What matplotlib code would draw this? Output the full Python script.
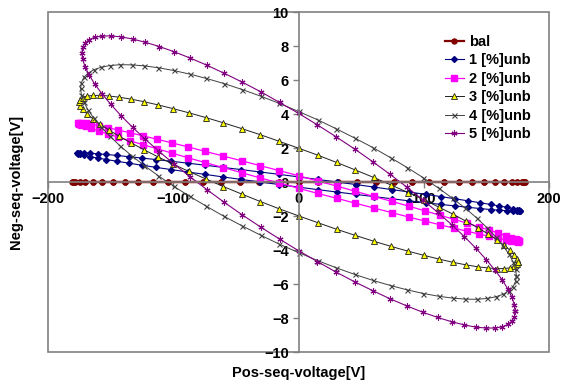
import matplotlib.pyplot as plt
from matplotlib.patches import Rectangle
import numpy as np

# Pos-seq / Neg-seq voltage samples (5 deg steps round each loop)
bal_x = [181, 180.3, 178.3, 174.8, 170.1, 164.0, 156.7, 148.3, 138.6, 128.0, 116.3, 103.8, 90.5, 76.5, 61.9, 46.8, 31.4, 15.8,
         0, -15.8, -31.4, -46.8, -61.9, -76.5, -90.5, -103.8, -116.3, -128.0, -138.6, -148.3, -156.7, -164.0, -170.1, -174.8, -178.3, -180.3,
         -181, -180.3, -178.3, -174.8, -170.1, -164.0, -156.7, -148.3, -138.6, -128.0, -116.3, -103.8, -90.5, -76.5, -61.9, -46.8, -31.4, -15.8,
         0, 15.8, 31.4, 46.8, 61.9, 76.5, 90.5, 103.8, 116.3, 128.0, 138.6, 148.3, 156.7, 164.0, 170.1, 174.8, 178.3, 180.3]
bal_y = [0, 0, 0, 0, 0, 0, 0, 0, 0, 0, 0, 0, 0, 0, 0, 0, 0, 0,
         0, 0, 0, 0, 0, 0, 0, 0, 0, 0, 0, 0, 0, 0, 0, 0, 0, 0,
         0, 0, 0, 0, 0, 0, 0, 0, 0, 0, 0, 0, 0, 0, 0, 0, 0, 0,
         0, 0, 0, 0, 0, 0, 0, 0, 0, 0, 0, 0, 0, 0, 0, 0, 0, 0]

unb1_x = [177, 176.3, 174.3, 171.0, 166.3, 160.4, 153.3, 145.0, 135.6, 125.2, 113.8, 101.5, 88.5, 74.8, 60.5, 45.8, 30.7, 15.4,
          0, -15.4, -30.7, -45.8, -60.5, -74.8, -88.5, -101.5, -113.8, -125.2, -135.6, -145.0, -153.3, -160.4, -166.3, -171.0, -174.3, -176.3,
          -177, -176.3, -174.3, -171.0, -166.3, -160.4, -153.3, -145.0, -135.6, -125.2, -113.8, -101.5, -88.5, -74.8, -60.5, -45.8, -30.7, -15.4,
          0, 15.4, 30.7, 45.8, 60.5, 74.8, 88.5, 101.5, 113.8, 125.2, 135.6, 145.0, 153.3, 160.4, 166.3, 171.0, 174.3, 176.3]
unb1_y = [-1.69, -1.71, -1.72, -1.71, -1.69, -1.66, -1.62, -1.56, -1.49, -1.41, -1.32, -1.22, -1.11, -0.99, -0.86, -0.73, -0.59, -0.45,
          -0.30, -0.15, 0.00, 0.15, 0.30, 0.45, 0.59, 0.73, 0.86, 0.99, 1.11, 1.22, 1.32, 1.41, 1.49, 1.56, 1.62, 1.66,
          1.69, 1.71, 1.72, 1.71, 1.69, 1.66, 1.62, 1.56, 1.49, 1.41, 1.32, 1.22, 1.11, 0.99, 0.86, 0.73, 0.59, 0.45,
          0.30, 0.15, 0.00, -0.15, -0.30, -0.45, -0.59, -0.73, -0.86, -0.99, -1.11, -1.22, -1.32, -1.41, -1.49, -1.56, -1.62, -1.66]

unb2_x = [176, 175.3, 173.3, 170.0, 165.4, 159.5, 152.4, 144.2, 134.8, 124.4, 113.1, 101.0, 88.0, 74.4, 60.2, 45.5, 30.6, 15.3,
          0, -15.3, -30.6, -45.5, -60.2, -74.4, -88.0, -101.0, -113.1, -124.4, -134.8, -144.2, -152.4, -159.5, -165.4, -170.0, -173.3, -175.3,
          -176, -175.3, -173.3, -170.0, -165.4, -159.5, -152.4, -144.2, -134.8, -124.4, -113.1, -101.0, -88.0, -74.4, -60.2, -45.5, -30.6, -15.3,
          0, 15.3, 30.6, 45.5, 60.2, 74.4, 88.0, 101.0, 113.1, 124.4, 134.8, 144.2, 152.4, 159.5, 165.4, 170.0, 173.3, 175.3]
unb2_y = [-3.48, -3.50, -3.49, -3.46, -3.40, -3.31, -3.20, -3.06, -2.90, -2.72, -2.52, -2.30, -2.06, -1.80, -1.53, -1.25, -0.96, -0.67,
          -0.37, -0.06, 0.24, 0.55, 0.85, 1.14, 1.42, 1.70, 1.96, 2.20, 2.43, 2.64, 2.83, 3.00, 3.15, 3.27, 3.36, 3.44,
          3.48, 3.50, 3.49, 3.46, 3.40, 3.31, 3.20, 3.06, 2.90, 2.72, 2.52, 2.30, 2.06, 1.80, 1.53, 1.25, 0.96, 0.67,
          0.37, 0.06, -0.24, -0.55, -0.85, -1.14, -1.42, -1.70, -1.96, -2.20, -2.43, -2.64, -2.83, -3.00, -3.15, -3.27, -3.36, -3.44]

unb3_x = [175, 174.3, 172.3, 169.0, 164.4, 158.6, 151.6, 143.4, 134.1, 123.7, 112.5, 100.4, 87.5, 74.0, 59.9, 45.3, 30.4, 15.3,
          0, -15.3, -30.4, -45.3, -59.9, -74.0, -87.5, -100.4, -112.5, -123.7, -134.1, -143.4, -151.6, -158.6, -164.4, -169.0, -172.3, -174.3,
          -175, -174.3, -172.3, -169.0, -164.4, -158.6, -151.6, -143.4, -134.1, -123.7, -112.5, -100.4, -87.5, -74.0, -59.9, -45.3, -30.4, -15.3,
          0, 15.3, 30.4, 45.3, 59.9, 74.0, 87.5, 100.4, 112.5, 123.7, 134.1, 143.4, 151.6, 158.6, 164.4, 169.0, 172.3, 174.3]
unb3_y = [-4.69, -4.85, -4.97, -5.05, -5.09, -5.10, -5.06, -4.99, -4.88, -4.73, -4.54, -4.32, -4.07, -3.79, -3.48, -3.14, -2.78, -2.39,
          -1.99, -1.58, -1.15, -0.71, -0.27, 0.18, 0.62, 1.06, 1.49, 1.91, 2.32, 2.70, 3.07, 3.41, 3.73, 4.02, 4.28, 4.50,
          4.69, 4.85, 4.97, 5.05, 5.09, 5.10, 5.06, 4.99, 4.88, 4.73, 4.54, 4.32, 4.07, 3.79, 3.48, 3.14, 2.78, 2.39,
          1.99, 1.58, 1.15, 0.71, 0.27, -0.18, -0.62, -1.06, -1.49, -1.91, -2.32, -2.70, -3.07, -3.41, -3.73, -4.02, -4.28, -4.50]

unb4_x = [174, 173.3, 171.4, 168.1, 163.5, 157.7, 150.7, 142.5, 133.3, 123.0, 111.8, 99.8, 87.0, 73.5, 59.5, 45.0, 30.2, 15.2,
          0, -15.2, -30.2, -45.0, -59.5, -73.5, -87.0, -99.8, -111.8, -123.0, -133.3, -142.5, -150.7, -157.7, -163.5, -168.1, -171.4, -173.3,
          -174, -173.3, -171.4, -168.1, -163.5, -157.7, -150.7, -142.5, -133.3, -123.0, -111.8, -99.8, -87.0, -73.5, -59.5, -45.0, -30.2, -15.2,
          0, 15.2, 30.2, 45.0, 59.5, 73.5, 87.0, 99.8, 111.8, 123.0, 133.3, 142.5, 150.7, 157.7, 163.5, 168.1, 171.4, 173.3]
unb4_y = [-5.51, -5.85, -6.15, -6.40, -6.60, -6.75, -6.85, -6.90, -6.89, -6.83, -6.72, -6.56, -6.35, -6.09, -5.79, -5.44, -5.05, -4.62,
          -4.15, -3.66, -3.13, -2.58, -2.02, -1.43, -0.84, -0.24, 0.36, 0.96, 1.55, 2.13, 2.70, 3.24, 3.76, 4.25, 4.71, 5.13,
          5.51, 5.85, 6.15, 6.40, 6.60, 6.75, 6.85, 6.90, 6.89, 6.83, 6.72, 6.56, 6.35, 6.09, 5.79, 5.44, 5.05, 4.62,
          4.15, 3.66, 3.13, 2.58, 2.02, 1.43, 0.84, 0.24, -0.36, -0.96, -1.55, -2.13, -2.70, -3.24, -3.76, -4.25, -4.71, -5.13]

unb5_x = [173, 172.3, 170.4, 167.1, 162.6, 156.8, 149.8, 141.7, 132.5, 122.3, 111.2, 99.2, 86.5, 73.1, 59.2, 44.8, 30.0, 15.1,
          0, -15.1, -30.0, -44.8, -59.2, -73.1, -86.5, -99.2, -111.2, -122.3, -132.5, -141.7, -149.8, -156.8, -162.6, -167.1, -170.4, -172.3,
          -173, -172.3, -170.4, -167.1, -162.6, -156.8, -149.8, -141.7, -132.5, -122.3, -111.2, -99.2, -86.5, -73.1, -59.2, -44.8, -30.0, -15.1,
          0, 15.1, 30.0, 44.8, 59.2, 73.1, 86.5, 99.2, 111.2, 122.3, 132.5, 141.7, 149.8, 156.8, 162.6, 167.1, 170.4, 172.3]
unb5_y = [-7.59, -7.92, -8.18, -8.38, -8.52, -8.59, -8.59, -8.54, -8.41, -8.22, -7.97, -7.66, -7.29, -6.87, -6.39, -5.87, -5.30, -4.68,
          -4.04, -3.36, -2.66, -1.94, -1.20, -0.45, 0.30, 1.05, 1.79, 2.51, 3.22, 3.90, 4.56, 5.18, 5.75, 6.29, 6.78, 7.21,
          7.59, 7.92, 8.18, 8.38, 8.52, 8.59, 8.59, 8.54, 8.41, 8.22, 7.97, 7.66, 7.29, 6.87, 6.39, 5.87, 5.30, 4.68,
          4.04, 3.36, 2.66, 1.94, 1.20, 0.45, -0.30, -1.05, -1.79, -2.51, -3.22, -3.90, -4.56, -5.18, -5.75, -6.29, -6.78, -7.21]

labels = ['bal', '1 [%]unb', '2 [%]unb', '3 [%]unb', '4 [%]unb', '5 [%]unb']
x_ticks = [-200, -100, 0, 100, 200]
y_ticks = [-10, -8, -6, -4, -2, 0, 2, 4, 6, 8, 10]

styles = [
    dict(color='#800000', marker='o', ms=3.6, mfc='#800000', mec='#800000', lw=1.6),
    dict(color='#000080', marker='D', ms=3.0, mfc='#000080', mec='#000080', lw=0.8),
    dict(color='#FF00FF', marker='s', ms=3.8, mfc='#FF00FF', mec='#FF00FF', lw=0.9),
    dict(color='#202020', marker='^', ms=3.8, mfc='#FFFF00', mec='#202020', mew=0.6, lw=0.7),
    dict(color='#404040', marker='x', ms=3.6, mec='#404040', mew=0.8, lw=0.7),
    dict(color='#800080', marker=(6, 2, 0), ms=4.3, mec='#800080', mew=0.8, lw=0.8),
]

series = [(bal_x, bal_y), (unb1_x, unb1_y), (unb2_x, unb2_y),
          (unb3_x, unb3_y), (unb4_x, unb4_y), (unb5_x, unb5_y)]

plt.rcParams['font.family'] = ['Liberation Sans', 'DejaVu Sans']

fig = plt.figure(figsize=(5.64, 3.85), dpi=100)
ax = fig.add_axes([48/564, 1 - 352/385, 501/564, 340/385])

for (xs, ys), lab, st in zip(series, labels, styles):
    xs = np.append(xs, xs[0])
    ys = np.append(ys, ys[0])
    ax.plot(xs, ys, label=lab, **st)

ax.set_xlim(-200, 200)
ax.set_ylim(-10, 10)
ax.set_xticks(x_ticks)
ax.set_yticks(y_ticks)

# axes cross at the origin, grey box round the plot area
for s in ['left', 'bottom']:
    ax.spines[s].set_position('zero')
    ax.spines[s].set_color('#808080')
    ax.spines[s].set_linewidth(1.2)
for s in ['top', 'right']:
    ax.spines[s].set_visible(False)
ax.add_patch(Rectangle((0, 0), 1, 1, transform=ax.transAxes, fill=False,
                       edgecolor='#808080', lw=1.2, clip_on=False, zorder=0))

ax.tick_params(direction='out', length=4, width=1, color='#808080',
               labelsize=10.5, pad=3)
ax.set_xticklabels([str(v).replace('-', '\u2212') for v in x_ticks])
ax.set_yticklabels([str(v).replace('-', '\u2212') for v in y_ticks])
for t in ax.get_xticklabels() + ax.get_yticklabels():
    t.set_fontweight('bold')

ax.set_xlabel('Pos-seq-voltage[V]', fontsize=10.5, fontweight='bold')
ax.set_ylabel('Neg-seq-voltage[V]', fontsize=10.5, fontweight='bold')
ax.xaxis.set_label_coords(0.5, -0.04)
ax.yaxis.set_label_coords(-0.05, 0.5)

ax.legend(loc='upper left', bbox_to_anchor=(0.78, 0.95), frameon=False,
          handlelength=1.3, handletextpad=0.35,
          labelspacing=0.31, borderaxespad=0,
          prop={'weight': 'bold', 'size': 10.5})

fig.savefig('out.png', dpi=100)
